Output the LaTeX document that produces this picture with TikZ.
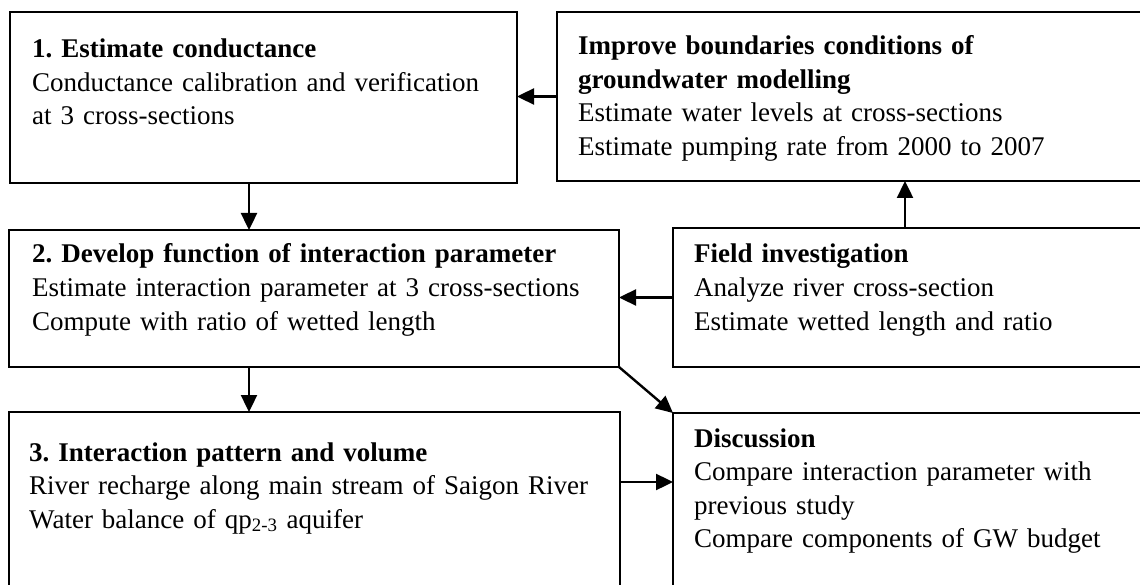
\documentclass[tikz,border=0pt]{standalone}
\usepackage{fontspec}
\setmainfont{Liberation Serif}
\usetikzlibrary{arrows.meta}
\frenchspacing
\begin{document}
\begin{tikzpicture}[x=1pt,y=-1pt,
  box/.style={draw=black, line width=2.4pt, fill=white, inner sep=0pt, outer sep=0pt, anchor=north west, rectangle},
  txt/.style={anchor=base west, inner sep=0pt, text width=620pt, align=left, font={\fontsize{27}{33.5}\selectfont}},
  arr/.style={line width=2.4pt, -{Triangle[length=17pt,width=16pt]}}]
\useasboundingbox (0,0) rectangle (1140,585);
\clip (0,0) rectangle (1140,585);
\fill[white] (0,0) rectangle (1140,585);
% boxes
\node[box, minimum width=507pt, minimum height=171pt] (b1) at (10,12) {};
\node[box, minimum width=593pt, minimum height=169pt] (imp) at (557,12) {};
\node[box, minimum width=610pt, minimum height=137pt] (b2) at (9,230) {};
\node[box, minimum width=477pt, minimum height=139pt] (field) at (673,228) {};
\node[box, minimum width=611pt, minimum height=183pt] (b3) at (9,412) {};
\node[box, minimum width=477pt, minimum height=182pt] (disc) at (673,413) {};
% texts
\node[txt] (t1) at (32,58) {\textbf{1. Estimate conductance}\\Conductance calibration and verification\\at 3 cross-sections};
\node[txt] (timp) at (578,55) {\textbf{Improve boundaries conditions of}\\\textbf{groundwater modelling}\\Estimate water levels at cross-sections\\Estimate pumping rate from 2000 to 2007};
\node[txt] (t2) at (32,263) {\textbf{2. Develop function of interaction parameter}\\Estimate interaction parameter at 3 cross-sections\\Compute with ratio of wetted length};
\node[txt] (tfield) at (694,263) {\textbf{Field investigation}\\Analyze river cross-section\\Estimate wetted length and ratio};
\node[txt] (t3) at (29,461) {\textbf{3. Interaction pattern and volume}\\River recharge along main stream of Saigon River\\Water balance of qp\textsubscript{2-3} aquifer};
\node[txt] (tdisc) at (694,447) {\textbf{Discussion}\\Compare interaction parameter with\\previous study\\Compare components of GW budget};
% connectors
\coordinate (c1) at (249,0);
\coordinate (c2) at (905,0);
\coordinate (c3) at (0,482);
\draw[arr] (imp.west) -- (imp.west -| b1.east);
\draw[arr] (b1.south -| c1) -- (b2.north -| c1);
\draw[arr] (field.north -| c2) -- (imp.south -| c2);
\draw[arr] (field.west) -- (field.west -| b2.east);
\draw[arr] (b2.south -| c1) -- (b3.north -| c1);
\draw[arr] (b2.south east) -- (disc.north west);
\draw[arr] (b3.east |- c3) -- (disc.west |- c3);
\end{tikzpicture}
\end{document}
